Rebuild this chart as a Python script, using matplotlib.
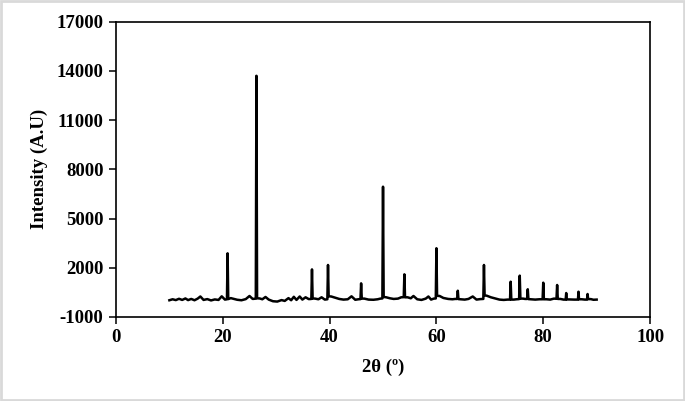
import matplotlib.pyplot as plt
from matplotlib.patches import Rectangle

# XRD pattern (2theta in degrees, intensity in A.U)
two_theta = [
    10.0, 10.6, 11.2, 11.8, 12.4, 13.0, 13.5, 14.1, 14.7, 15.3, 15.8, 16.4,
    17.1, 17.8, 18.5, 19.2, 19.8, 20.4, 20.78, 20.9, 21.02, 21.5, 22.0, 22.7,
    23.5, 24.3, 25.0, 25.6, 26.18, 26.3, 26.42, 26.9, 27.4, 28.0, 28.6, 29.4,
    30.2, 31.0, 31.6, 32.3, 32.8, 33.3, 33.8, 34.4, 34.9, 35.5, 36.1, 36.58,
    36.7, 36.82, 37.3, 37.9, 38.5, 39.1, 39.58, 39.7, 39.82, 40.3, 41.0, 41.8,
    42.6, 43.4, 44.1, 44.8, 45.4, 45.78, 45.9, 46.02, 46.5, 47.3, 48.2, 49.0,
    49.5, 49.88, 50.0, 50.12, 50.6, 51.3, 52.0, 52.8, 53.4, 53.88, 54.0, 54.12,
    54.6, 55.2, 55.7, 56.4, 57.2, 58.0, 58.5, 59.0, 59.5, 59.88, 60.0, 60.12,
    60.6, 61.3, 62.2, 63.0, 63.5, 63.88, 64.0, 64.12, 64.6, 65.3, 66.0, 66.8,
    67.5, 68.2, 68.78, 68.9, 69.02, 69.4, 70.2, 71.0, 71.8, 72.6, 73.3, 73.78,
    73.9, 74.02, 74.5, 75.0, 75.48, 75.6, 75.72, 76.2, 76.6, 76.98, 77.1, 77.22,
    77.7, 78.5, 79.3, 79.88, 80.0, 80.12, 80.6, 81.3, 82.0, 82.48, 82.6, 82.72,
    83.2, 83.8, 84.2, 84.3, 84.4, 84.9, 85.8, 86.5, 86.6, 86.7, 87.2, 87.8,
    88.2, 88.3, 88.4, 88.9, 89.4, 90.0,
]
intensity = [
    20, 80, 30, 110, 40, 130, 30, 100, 20, 120, 250, 40,
    90, 10, 70, 40, 260, 60, 80, 2880, 90, 150, 110, 50,
    20, 90, 280, 100, 120, 13700, 140, 130, 80, 220, 60, -40,
    -60, 30, -20, 150, 20, 230, 40, 250, 60, 200, 90, 100,
    1900, 130, 120, 80, 200, 60, 80, 2170, 260, 250, 180, 100,
    60, 80, 260, 50, 80, 90, 1050, 120, 120, 60, 50, 80,
    120, 130, 6940, 220, 200, 140, 100, 120, 200, 210, 1600, 200,
    200, 140, 280, 80, 40, 120, 250, 60, 120, 130, 3190, 290,
    280, 160, 100, 80, 100, 100, 600, 90, 80, 60, 100, 250,
    60, 90, 100, 2170, 310, 300, 200, 130, 60, 40, 60, 60,
    1150, 60, 60, 80, 90, 1520, 120, 120, 100, 100, 690, 90,
    80, 60, 80, 80, 1090, 80, 80, 60, 120, 110, 950, 100,
    100, 60, 60, 460, 70, 70, 60, 60, 540, 80, 80, 60,
    60, 400, 90, 90, 50, 60,
]

x_ticks = [0, 20, 40, 60, 80, 100]
y_ticks = [-1000, 2000, 5000, 8000, 11000, 14000, 17000]

plt.rcParams['font.family'] = ['Liberation Serif', 'DejaVu Serif']
plt.rcParams['font.weight'] = 'bold'
plt.rcParams['axes.unicode_minus'] = False

fig = plt.figure(figsize=(6.85, 4.01), dpi=100)
ax = fig.add_axes([0.1693, 0.2095, 0.7797, 0.7365])

ax.plot(two_theta, intensity, color='black', linewidth=1.8)

ax.set_xlim(0, 100)
ax.set_ylim(-1000, 17000)
ax.set_xticks(x_ticks)
ax.set_yticks(y_ticks)
ax.tick_params(direction='out', length=5, width=1.1, labelsize=13.5,
               top=False, right=False, pad=4)
for s in ax.spines.values():
    s.set_linewidth(1.2)
for lab in ax.get_xticklabels() + ax.get_yticklabels():
    lab.set_fontweight('bold')

ax.set_xlabel('2θ (º)', fontsize=13.5, fontweight='bold', labelpad=9)
ax.set_ylabel('Intensity (A.U)', fontsize=13.5, fontweight='bold', labelpad=6)

# light grey frame around the whole picture
fig.patches.append(Rectangle((0.002, 0.003), 0.996, 0.994, transform=fig.transFigure,
                             fill=False, edgecolor='#d9d9d9', linewidth=2))

fig.savefig('out.png', dpi=100)
